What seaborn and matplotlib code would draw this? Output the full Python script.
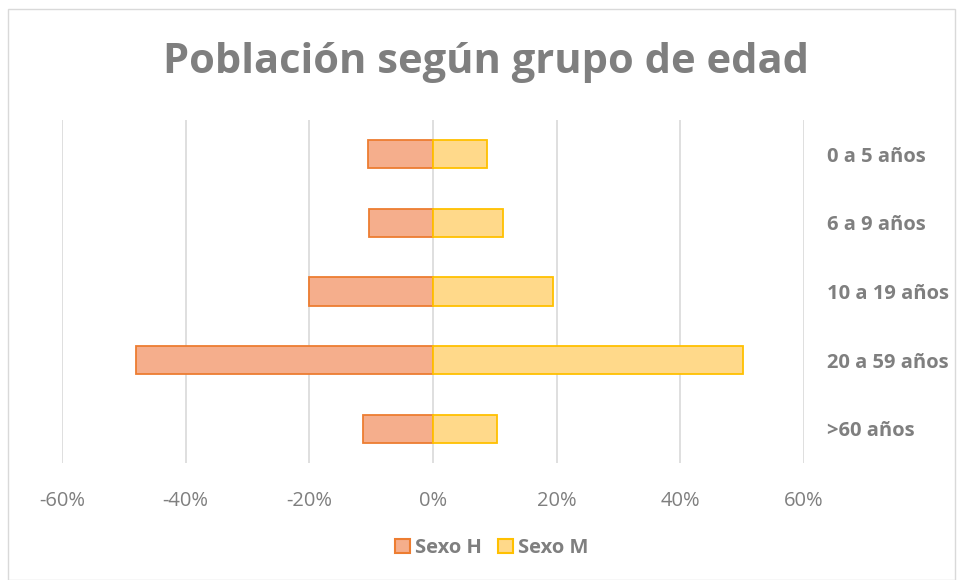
import seaborn as sns
import pandas as pd
import matplotlib.pyplot as plt
from matplotlib.patches import Patch, Rectangle

# datos (porcentaje)
grupos = ["0 a 5 años", "6 a 9 años", "10 a 19 años", "20 a 59 años", ">60 años"]
sexo_h = [10.5, 10.4, 20.1, 48.1, 11.3]
sexo_m = [8.7, 11.3, 19.4, 50.2, 10.4]
ticks = [-60, -40, -20, 0, 20, 40, 60]

df = pd.DataFrame({
    "grupo": grupos * 2,
    "valor": [-v for v in sexo_h] + sexo_m,
    "sexo": ["Sexo H"] * len(grupos) + ["Sexo M"] * len(grupos),
})

sns.set_style("white")
plt.rcParams["font.family"] = ["Open Sans", "DejaVu Sans"]

fig = plt.figure(figsize=(9.57, 5.80), dpi=100)
ax = fig.add_axes([0.0648, 0.2017, 0.7752, 0.5913])

caras = {"Sexo H": "#F5AE8C", "Sexo M": "#FFD98A"}
bordes = {"Sexo H": "#ED7D31", "Sexo M": "#FFC000"}

sns.barplot(data=df, y="grupo", x="valor", hue="sexo", order=grupos,
            palette=caras, dodge=False, orient="h", width=0.41,
            saturation=1, ax=ax, legend=False, zorder=3)

for p, s in zip(ax.patches, df["sexo"]):
    p.set_edgecolor(bordes[s])
    p.set_linewidth(1.3)

ax.set_xlim(-60, 60)
ax.set_ylim(4.5, -0.5)
ax.set_xticks(ticks)
ax.set_xticklabels([f"{t}%" for t in ticks], color="#7F7F7F", fontsize=14.5)
ax.yaxis.tick_right()
ax.tick_params(axis="y", length=0, pad=17, labelsize=14.5, labelcolor="#7F7F7F")
for lbl in ax.get_yticklabels():
    lbl.set_fontweight("bold")
ax.tick_params(axis="x", length=0, pad=20)
ax.set_xlabel("")
ax.set_ylabel("")
ax.grid(axis="x", color="#D9D9D9", linewidth=1.2, zorder=0)
for s in ax.spines.values():
    s.set_visible(False)

fig.text(0.508, 0.893, "Población según grupo de edad", ha="center", va="center",
         fontsize=30, fontweight="bold", color="#7F7F7F")

handles = [Patch(facecolor=caras[k], edgecolor=bordes[k], linewidth=1.5, label=k)
           for k in ["Sexo H", "Sexo M"]]
leg = fig.legend(handles=handles, loc="center", bbox_to_anchor=(0.514, 0.055),
                 ncol=2, frameon=False, handlelength=0.75, handleheight=0.75,
                 handletextpad=0.25, columnspacing=0.8, fontsize=14.5)
for t in leg.get_texts():
    t.set_color("#7F7F7F")
    t.set_fontweight("bold")

fig.patches.append(Rectangle((0.008, 0.0), 0.99, 0.985, transform=fig.transFigure,
                             fill=False, edgecolor="#D9D9D9", linewidth=1))

plt.savefig("out.png", dpi=100)
plt.close()
